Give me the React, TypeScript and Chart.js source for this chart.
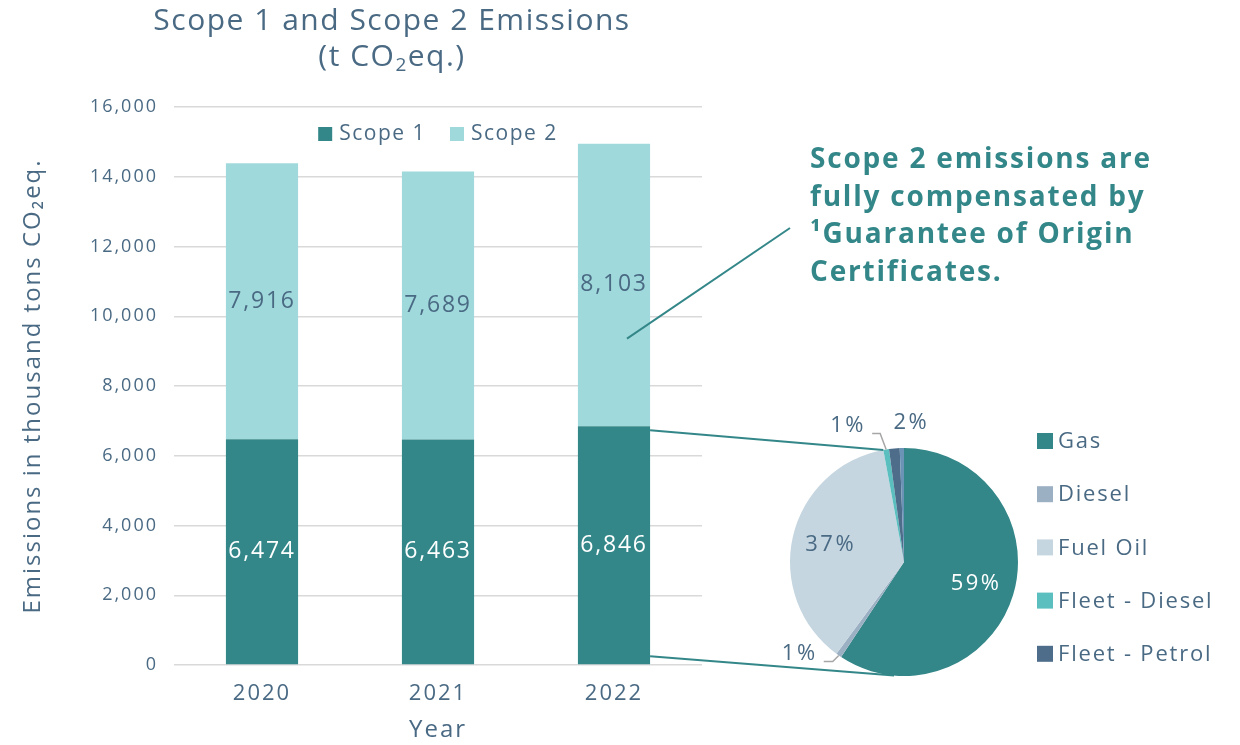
import React, { useEffect, useRef } from 'react';
import { Chart, registerables } from 'chart.js';

Chart.register(...registerables);

// ---------- data ----------
const YEARS = ['2020', '2021', '2022'];
const SCOPE1 = [6474, 6463, 6846];
const SCOPE2 = [7916, 7689, 8103];
const Y_MIN = 0;
const Y_MAX = 16000;
const Y_STEP = 2000;

const SOURCES = ['Gas', 'Diesel', 'Fuel Oil', 'Fleet - Diesel', 'Fleet - Petrol', ''];
const SHARES = [59.3, 0.8, 37.0, 0.8, 1.5, 0.6];
const SHARE_LABELS = ['59%', '1%', '37%', '1%', '2%', ''];

const TITLE_LINE1 = 'Scope 1 and Scope 2 Emissions';
const NOTE_LINES = ['Scope 2 emissions are', 'fully compensated by', '\u00B9Guarantee of Origin', 'Certificates.'];

// ---------- styles ----------
const FONT = '"Open Sans", "DejaVu Sans", sans-serif';
const TEAL = '#348789';
const LIGHT = '#a0d9db';
const SLATE = '#4a6a84';
const GRID = '#d9d9d9';
const PIE_COLORS = ['#348789', '#9cb0c4', '#c5d6e0', '#5bbfbf', '#4e6d8a', '#6b93b6'];

const fmt = (v: number) => Number(v).toLocaleString('en-US');

export default function App() {
  const barRef = useRef<HTMLCanvasElement>(null);
  const pieRef = useRef<HTMLCanvasElement>(null);

  useEffect(() => {
    document.body.style.margin = '0';
    document.body.style.overflow = 'hidden';
    if (!barRef.current || !pieRef.current) return;

    const spacing = {
      id: 'spacing',
      beforeDraw(chart: any) {
        (chart.ctx as any).letterSpacing = '2px';
      },
    };

    const barLabels = {
      id: 'barLabels',
      afterDatasetsDraw(chart: any) {
        const ctx = chart.ctx;
        ctx.save();
        ctx.letterSpacing = '1.8px';
        ctx.font = `23px ${FONT}`;
        ctx.textAlign = 'center';
        ctx.textBaseline = 'middle';
        chart.data.datasets.forEach((ds: any, i: number) => {
          const meta = chart.getDatasetMeta(i);
          ctx.fillStyle = i === 0 ? '#ffffff' : SLATE;
          meta.data.forEach((el: any, j: number) => {
            const p = el.getProps(['x', 'y', 'base'], true);
            ctx.fillText(fmt(ds.data[j]), p.x, (p.y + p.base) / 2);
          });
        });
        ctx.restore();
      },
    };

    const customLegend = {
      id: 'customLegend',
      afterDraw(chart: any) {
        const ctx = chart.ctx;
        const area = chart.chartArea;
        ctx.save();
        ctx.letterSpacing = '1.5px';
        ctx.font = `21px ${FONT}`;
        ctx.textBaseline = 'middle';
        const box = 14;
        const gapText = 7;
        const gapItem = 24;
        const items = chart.data.datasets.map((ds: any) => ({
          text: ds.label,
          color: ds.backgroundColor,
          w: box + gapText + ctx.measureText(ds.label).width,
        }));
        const total = items.reduce((s: number, it: any) => s + it.w, 0) + gapItem * (items.length - 1);
        let x = (area.left + area.right) / 2 - total / 2;
        const y = area.top + 27;
        items.forEach((it: any) => {
          ctx.fillStyle = it.color;
          ctx.fillRect(x, y - box / 2, box, box);
          ctx.fillStyle = SLATE;
          ctx.textAlign = 'left';
          ctx.fillText(it.text, x + box + gapText, y);
          x += it.w + gapItem;
        });
        ctx.restore();
      },
    };

    const titleAndNote = {
      id: 'titleAndNote',
      afterDraw(chart: any) {
        const ctx = chart.ctx;
        ctx.save();
        // title
        const cx = 392;
        ctx.letterSpacing = '1.5px';
        ctx.fillStyle = SLATE;
        ctx.textBaseline = 'middle';
        ctx.textAlign = 'center';
        ctx.font = `30px ${FONT}`;
        ctx.fillText(TITLE_LINE1, cx, 21);
        // second line with subscript
        const a = '(t CO';
        const b = '2';
        const c = 'eq.)';
        ctx.font = `30px ${FONT}`;
        const wa = ctx.measureText(a).width;
        const wc = ctx.measureText(c).width;
        ctx.font = `19px ${FONT}`;
        const wb = ctx.measureText(b).width;
        let x = cx - (wa + wb + wc) / 2;
        ctx.textAlign = 'left';
        ctx.font = `30px ${FONT}`;
        ctx.fillText(a, x, 57);
        x += wa;
        ctx.font = `19px ${FONT}`;
        ctx.fillText(b, x, 66);
        x += wb;
        ctx.font = `30px ${FONT}`;
        ctx.fillText(c, x, 57);

        // note text
        ctx.letterSpacing = '1.8px';
        ctx.fillStyle = TEAL;
        ctx.font = `bold 28px ${FONT}`;
        ctx.textAlign = 'left';
        NOTE_LINES.forEach((line, i) => {
          ctx.fillText(line, 810, 160 + i * 37.7);
        });

        // callout line from the 2022 Scope 2 segment
        const meta = chart.getDatasetMeta(1);
        const el = meta.data[2];
        const p = el.getProps(['x', 'y', 'base', 'width'], true);
        const yScale = chart.scales.y;
        const sx = p.x + p.width * 0.18;
        const sy = yScale.getPixelForValue(SCOPE1[2] + SCOPE2[2] * 0.31);
        ctx.strokeStyle = TEAL;
        ctx.lineWidth = 2;
        ctx.beginPath();
        ctx.moveTo(sx, sy);
        ctx.lineTo(790, 228);
        ctx.stroke();
        ctx.restore();
      },
    };

    const bar = new Chart(barRef.current, {
      type: 'bar',
      data: {
        labels: YEARS,
        datasets: [
          { label: 'Scope 1', data: SCOPE1, backgroundColor: TEAL, categoryPercentage: 1, barPercentage: 0.41 },
          { label: 'Scope 2', data: SCOPE2, backgroundColor: LIGHT, categoryPercentage: 1, barPercentage: 0.41 },
        ],
      },
      options: {
        responsive: false,
        animation: false,
        events: [],
        layout: { padding: { left: 0, top: 107, right: 538, bottom: 0 } },
        plugins: {
          legend: { display: false },
          tooltip: { enabled: false },
          title: { display: false },
        },
        scales: {
          x: {
            stacked: true,
            grid: { display: false, drawTicks: false },
            border: { display: false },
            ticks: { color: SLATE, font: { family: FONT, size: 22 }, padding: 16 },
            title: {
              display: true,
              text: 'Year',
              color: SLATE,
              font: { family: FONT, size: 24, lineHeight: 1.2 },
              padding: { top: 0, bottom: 0 },
            },
            afterFit: (s: any) => {
              s.height = 80;
            },
          },
          y: {
            stacked: true,
            min: Y_MIN,
            max: Y_MAX,
            ticks: {
              stepSize: Y_STEP,
              color: SLATE,
              padding: 16,
              font: { family: FONT, size: 18 },
              callback: (v: any) => fmt(Number(v)),
            },
            grid: { color: GRID, lineWidth: 1.4, drawTicks: false },
            border: { display: false },
            title: {
              display: true,
              text: 'Emissions in thousand tons CO\u2082eq.',
              color: SLATE,
              font: { family: FONT, size: 24, lineHeight: 1.2 },
              padding: { top: 19, bottom: 0 },
            },
            afterFit: (s: any) => {
              s.width = 174;
            },
          },
        },
      } as any,
      plugins: [spacing, barLabels, customLegend, titleAndNote],
    });

    const pieLabels = {
      id: 'pieLabels',
      afterDatasetsDraw(chart: any) {
        const ctx = chart.ctx;
        const meta = chart.getDatasetMeta(0);
        const nudges: any = {
          1: { dx: -39, dy: -2, leader: true },
          3: { dx: -38, dy: -24, leader: true },
          4: { dx: 17, dy: -26, leader: false },
        };
        ctx.save();
        ctx.letterSpacing = '2.5px';
        ctx.font = `22px ${FONT}`;
        ctx.textAlign = 'center';
        ctx.textBaseline = 'middle';
        meta.data.forEach((el: any, i: number) => {
          const text = SHARE_LABELS[i];
          if (!text) return;
          const p = el.getProps(['x', 'y', 'startAngle', 'endAngle', 'outerRadius'], true);
          const mid = (p.startAngle + p.endAngle) / 2;
          if (SHARES[i] >= 3) {
            const r = p.outerRadius * 0.66;
            ctx.fillStyle = i === 0 ? '#ffffff' : SLATE;
            ctx.fillText(text, p.x + Math.cos(mid) * r, p.y + Math.sin(mid) * r);
          } else {
            const ex = p.x + Math.cos(mid) * p.outerRadius;
            const ey = p.y + Math.sin(mid) * p.outerRadius;
            const n = nudges[i] || { dx: 0, dy: -20, leader: false };
            const lx = ex + n.dx;
            const ly = ey + n.dy;
            if (n.leader) {
              ctx.strokeStyle = '#a6a6a6';
              ctx.lineWidth = 1.5;
              ctx.beginPath();
              ctx.moveTo(ex, ey);
              ctx.lineTo(ex - 6, ly + 8);
              ctx.lineTo(lx + 24, ly + 8);
              ctx.stroke();
            }
            ctx.fillStyle = SLATE;
            ctx.fillText(text, lx, ly);
          }
        });
        ctx.restore();
      },
    };

    const pieLegend = {
      id: 'pieLegend',
      afterDraw(chart: any) {
        const ctx = chart.ctx;
        const area = chart.chartArea;
        const ds = chart.data.datasets[0];
        ctx.save();
        ctx.letterSpacing = '1.8px';
        ctx.font = `22px ${FONT}`;
        ctx.textAlign = 'left';
        ctx.textBaseline = 'middle';
        const x0 = area.right + 19;
        let row = 0;
        chart.data.labels.forEach((label: string, i: number) => {
          if (!label) return;
          const y = area.top - 7 + row * 53.2;
          ctx.fillStyle = ds.backgroundColor[i];
          ctx.fillRect(x0, y - 8, 16, 16);
          ctx.fillStyle = SLATE;
          ctx.fillText(label, x0 + 21, y + 1);
          row++;
        });
        ctx.restore();
      },
    };

    const connectors = {
      id: 'connectors',
      afterDraw(chart: any) {
        const ctx = chart.ctx;
        const barEl = bar.getDatasetMeta(0).data[2] as any;
        const b = barEl.getProps(['x', 'y', 'base', 'width'], true);
        const right = b.x + b.width / 2;
        const arcs = chart.getDatasetMeta(0).data as any[];
        const first = arcs[0].getProps(['x', 'y', 'outerRadius'], true);
        const fleetStart = arcs[3].getProps(['startAngle'], true).startAngle;
        const bottomAngle = Math.PI / 2 + (5 * Math.PI) / 180;
        ctx.save();
        ctx.strokeStyle = TEAL;
        ctx.lineWidth = 2;
        ctx.beginPath();
        ctx.moveTo(right, b.y + 4);
        ctx.lineTo(first.x + Math.cos(fleetStart) * first.outerRadius, first.y + Math.sin(fleetStart) * first.outerRadius);
        ctx.moveTo(right, b.base - 8);
        ctx.lineTo(first.x + Math.cos(bottomAngle) * first.outerRadius, first.y + Math.sin(bottomAngle) * first.outerRadius);
        ctx.stroke();
        ctx.restore();
      },
    };

    const pie = new Chart(pieRef.current, {
      type: 'pie',
      data: {
        labels: SOURCES,
        datasets: [{ data: SHARES, backgroundColor: PIE_COLORS, borderWidth: 0 }],
      },
      options: {
        responsive: false,
        animation: false,
        events: [],
        layout: { padding: { left: 790, right: 222, top: 448, bottom: 69 } },
        plugins: {
          legend: { display: false },
          tooltip: { enabled: false },
        },
      } as any,
      plugins: [pieLabels, pieLegend, connectors],
    });

    return () => {
      pie.destroy();
      bar.destroy();
    };
  }, []);

  return (
    <div style={{ position: 'relative', width: 1240, height: 745, overflow: 'hidden', background: '#ffffff' }}>
      <canvas ref={barRef} width={1240} height={745} style={{ position: 'absolute', left: 0, top: 0 }} />
      <canvas
        ref={pieRef}
        width={1240}
        height={745}
        style={{ position: 'absolute', left: 0, top: 0, pointerEvents: 'none' }}
      />
    </div>
  );
}
